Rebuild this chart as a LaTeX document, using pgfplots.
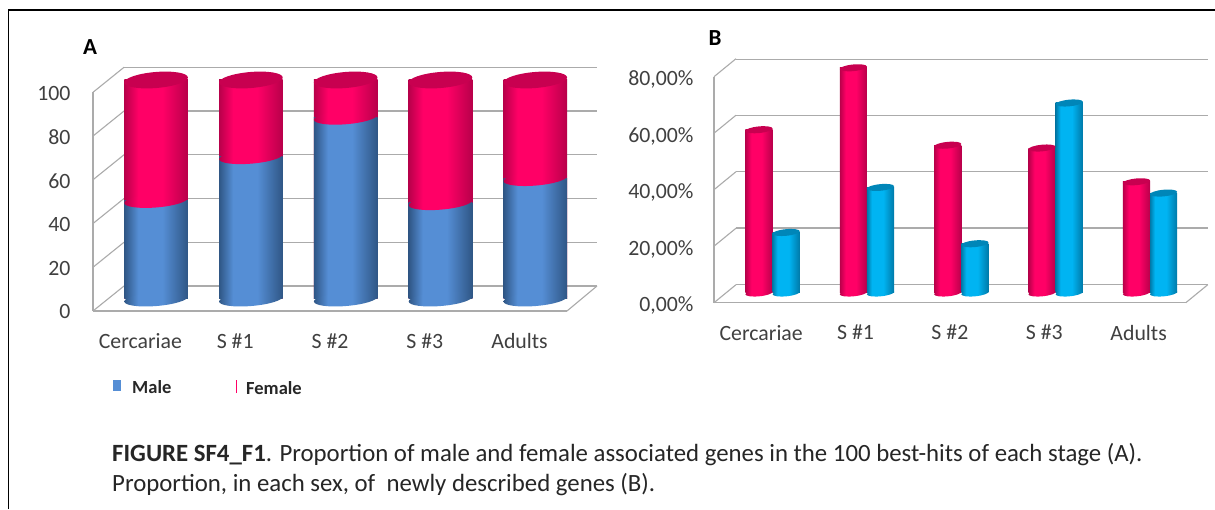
\documentclass[border=0pt]{standalone}
\usepackage{pgfplots}
\usepackage{pgfplotstable}
\usepackage{fontspec}
\setmainfont{Carlito}
\pgfplotsset{compat=1.18}
\definecolor{wallc}{HTML}{ABABAB}
\definecolor{txt}{HTML}{404040}
\definecolor{bd}{HTML}{2F5685}
\definecolor{bm}{HTML}{558ED5}
\definecolor{rd}{HTML}{B8004A}
\definecolor{rm}{HTML}{FF0066}
\definecolor{rtop}{HTML}{C80050}
\definecolor{cd}{HTML}{0079A8}
\definecolor{cm}{HTML}{00B4F2}
\definecolor{ctop}{HTML}{0086B8}
\pgfdeclarehorizontalshading{cylB}{100bp}{color(0bp)=(bd); color(25bp)=(bd); color(36bp)=(bm); color(55bp)=(bm); color(75bp)=(bd); color(100bp)=(bd)}
\pgfdeclarehorizontalshading{cylR}{100bp}{color(0bp)=(rd); color(25bp)=(rd); color(36bp)=(rm); color(55bp)=(rm); color(75bp)=(rd); color(100bp)=(rd)}
\pgfdeclarehorizontalshading{cylC}{100bp}{color(0bp)=(cd); color(25bp)=(cd); color(34bp)=(cm); color(55bp)=(cm); color(75bp)=(cd); color(100bp)=(cd)}
\newcommand{\ellA}{\pgfpathellipse{\pgfpointorigin}{\pgfqpoint{31.8pt}{2.6pt}}{\pgfqpoint{-0.5pt}{7pt}}}
\newcommand{\ellT}{\pgfpathellipse{\pgfpointorigin}{\pgfqpoint{31.8pt}{2.6pt}}{\pgfqpoint{-0.5pt}{8pt}}}
\newcommand{\ellB}{\pgfpathellipse{\pgfpointorigin}{\pgfqpoint{13.6pt}{1.3pt}}{\pgfqpoint{-0.3pt}{3.3pt}}}
\pgfdeclareplotmark{capAb}{\ellA\pgfshadepath{cylB}{0}\pgfusepath{discard}}
\pgfdeclareplotmark{capAr}{\ellA\pgfshadepath{cylR}{0}\pgfusepath{discard}}
\pgfdeclareplotmark{capAt}{\ellT\pgfsetfillcolor{rtop}\pgfusepathqfill}
\pgfdeclareplotmark{capBr}{\ellB\pgfshadepath{cylR}{0}\pgfusepath{discard}}
\pgfdeclareplotmark{capBc}{\ellB\pgfshadepath{cylC}{0}\pgfusepath{discard}}
\pgfdeclareplotmark{capBrt}{\ellB\pgfsetfillcolor{rtop}\pgfusepathqfill}
\pgfdeclareplotmark{capBct}{\ellB\pgfsetfillcolor{ctop}\pgfusepathqfill}
\pgfplotstableread{
x male female total zero
0 45 55 100 0
1 65 35 100 0
2 83 17 100 0
3 44 56 100 0
4 55 45 100 0
}\tabA
\pgfplotstableread{
x female male zero
0 58 21.5 0
1 80 37.5 0
2 52.5 17.5 0
3 51.5 67.5 0
4 39.5 35.5 0
}\tabB
\pgfplotsset{
  wall/.style={scale only axis, anchor=south west, axis line style={draw=none},
    xtick=\empty, yticklabels={}, major tick length=0pt, ymajorgrids,
    grid style={wallc, line width=1.1pt}, xmin=0, xmax=1},
  front/.style={scale only axis, anchor=south west, axis x line*=bottom, axis y line*=left,
    axis line style={wallc, line width=1.1pt, -}, major tick length=0pt, clip=false,
    xmin=-0.5, xmax=4.5, xtick={0,1,2,3,4},
    xticklabels={Cercariae,S \#1,S \#2,S \#3,Adults},
    tick label style={font=\fontsize{21.8}{21.8}\selectfont, text=txt},
    xticklabel style={yshift=-19pt}},
  bars/.style={scale only axis, anchor=south west, hide axis, clip=false,
    xmin=-0.5, xmax=4.5}
}
\begin{document}
\begin{tikzpicture}[x=1pt,y=1pt]
\path[use as bounding box] (0,0) rectangle (1215,509);
\fill[white] (0,0) rectangle (1215,509);
\draw[black, line width=1.6pt] (8.5,0) -- (8.5,499) -- (1215,499);
% Panel A
\begin{axis}[wall, at={(124pt,223pt)}, width=473pt, height=218.7pt, ymin=0, ymax=100, ytick={0,20,40,60,80,100}]
\end{axis}
\begin{axis}[front, at={(93pt,198pt)}, width=474pt, height=218.7pt, ymin=0, ymax=100, ytick={0,20,40,60,80,100},
  yticklabels={0,20,40,60,80,100}, yticklabel style={xshift=-19pt,yshift=-1pt}]
\pgfplotsinvokeforeach{0,20,40,60,80,100}{
  \draw[wallc, line width=1.1pt] (axis cs:-0.5,#1) -- ++(31pt,25pt);
}
\draw[wallc, line width=1.1pt] (axis cs:4.5,0) -- ++(30pt,25pt);
\end{axis}
\begin{axis}[bars, at={(108.7pt,210pt)}, width=474pt, height=219pt, ymin=0, ymax=100]
\pgfplotsinvokeforeach{-0.3:0.3,0.7:1.3,1.7:2.3,2.7:3.3,3.7:4.3}{
\addplot[ybar, bar shift=0pt, bar width=63.6pt, draw=none, shade, shading=cylR, restrict x to domain=#1] table[x=x,y=total] {\tabA};
\addplot[only marks, mark=capAb, restrict x to domain=#1] table[x=x,y=zero] {\tabA};
\addplot[ybar, bar shift=0pt, bar width=63.6pt, draw=none, shade, shading=cylB, restrict x to domain=#1] table[x=x,y=male] {\tabA};
\addplot[only marks, mark=capAr, restrict x to domain=#1] table[x=x,y=male] {\tabA};
\addplot[only marks, mark=capAt, restrict x to domain=#1] table[x=x,y=total] {\tabA};
}
\end{axis}
% Panel B
\begin{axis}[wall, at={(735.8pt,224.7pt)}, width=472.2pt, height=225pt, ymin=0, ymax=80, ytick={0,20,40,60,80}]
\end{axis}
\begin{axis}[front, at={(714pt,206.3pt)}, width=471.8pt, height=226pt, ymin=0, ymax=80, ytick={0,20,40,60,80},
  yticklabels={{0,00\%},{20,00\%},{40,00\%},{60,00\%},{80,00\%}}, yticklabel style={xshift=-17pt,yshift=-3pt}]
\pgfplotsinvokeforeach{0,20,40,60,80}{
  \draw[wallc, line width=1.1pt] (axis cs:-0.5,#1) -- ++(22pt,18pt);
}
\draw[wallc, line width=1.1pt] (axis cs:4.5,0) -- ++(22pt,18pt);
\end{axis}
\begin{axis}[bars, at={(725.4pt,216pt)}, width=471.8pt, height=225.2pt, ymin=0, ymax=80]
\pgfplotsinvokeforeach{-0.3:0.3,0.7:1.3,1.7:2.3,2.7:3.3,3.7:4.3}{
\addplot[only marks, mark=capBr, restrict x to domain=#1] table[x expr=\thisrow{x}-0.144,y=zero] {\tabB};
\addplot[ybar, bar shift=0pt, bar width=27.2pt, draw=none, shade, shading=cylR, restrict x to domain=#1] table[x expr=\thisrow{x}-0.144,y=female] {\tabB};
\addplot[only marks, mark=capBrt, restrict x to domain=#1] table[x expr=\thisrow{x}-0.144,y=female] {\tabB};
\addplot[only marks, mark=capBc, restrict x to domain=#1] table[x expr=\thisrow{x}+0.144,y=zero] {\tabB};
\addplot[ybar, bar shift=0pt, bar width=27.2pt, draw=none, shade, shading=cylC, restrict x to domain=#1] table[x expr=\thisrow{x}+0.144,y=male] {\tabB};
\addplot[only marks, mark=capBct, restrict x to domain=#1] table[x expr=\thisrow{x}+0.144,y=male] {\tabB};
}
\end{axis}
% Labels
\node[font=\bfseries\fontsize{23}{23}\selectfont, anchor=center] at (90,462) {A};
\node[font=\bfseries\fontsize{23}{23}\selectfont, anchor=center] at (715,471) {B};
\fill[bm] (113,118) rectangle (121,129);
\node[font=\bfseries\fontsize{18.5}{18.5}\selectfont, anchor=west, inner sep=0pt, text=txt!60!black] at (132,122) {Male};
\draw[rm, line width=0.8pt] (236,116) -- (236,129);
\node[font=\bfseries\fontsize{18.5}{18.5}\selectfont, anchor=west, inner sep=0pt, text=txt!60!black] at (246,121) {Female};
\node[font=\fontsize{24.8}{24.8}\selectfont, anchor=west, inner sep=0pt, text=black!85] at (112,54.5) {\textbf{FIGURE SF4\_F1}. Proportion of male and female associated genes in the 100 best-hits of each stage (A).};
\node[font=\fontsize{24.8}{24.8}\selectfont, anchor=west, inner sep=0pt, text=black!85] at (112,24.5) {Proportion, in each sex, of\ \ newly described genes (B).};
\end{tikzpicture}
\end{document}
